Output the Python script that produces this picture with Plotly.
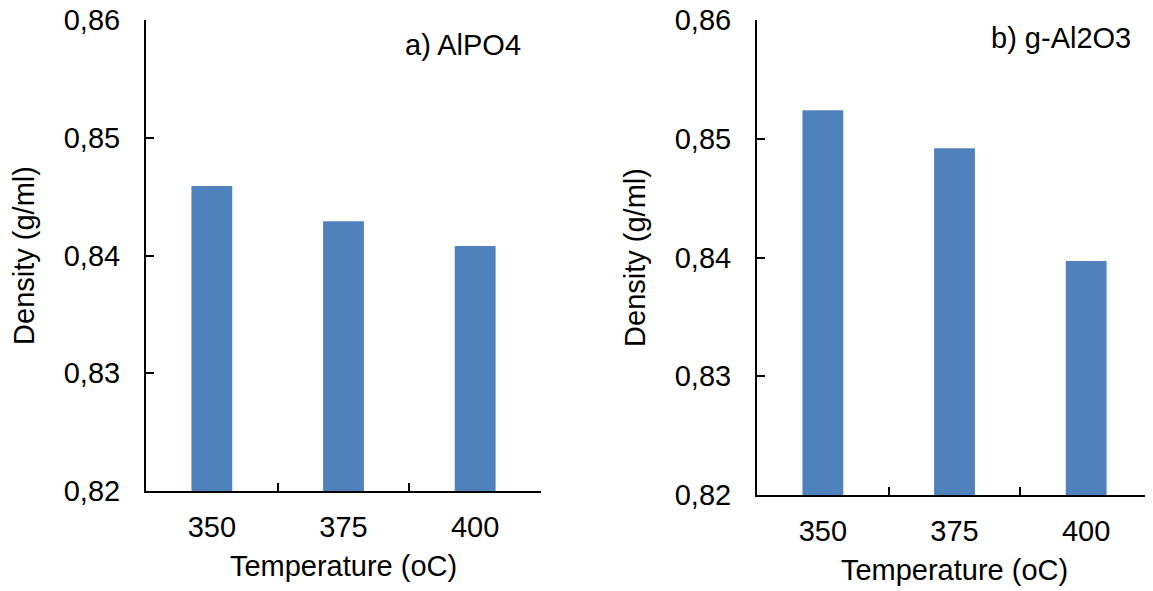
import plotly.graph_objects as go

temperatures = ["350", "375", "400"]
density_alpo4 = [0.8459, 0.8429, 0.8408]
density_al2o3 = [0.8524, 0.8492, 0.8397]
panel_labels = ["a) AlPO4", "b) g-Al2O3"]
y_ticks = [0.82, 0.83, 0.84, 0.85, 0.86]

BAR = "#4F81BD"
FONT = "Liberation Sans, Arial, sans-serif"
FS = 29

fig = go.Figure()
fig.add_trace(go.Bar(x=temperatures, y=density_alpo4, marker=dict(color=BAR, line=dict(width=0)),
                     xaxis="x", yaxis="y", showlegend=False))
fig.add_trace(go.Bar(x=temperatures, y=density_al2o3, marker=dict(color=BAR, line=dict(width=0)),
                     xaxis="x2", yaxis="y2", showlegend=False))

# page body has an 8px margin; map window pixel positions to figure coordinates
OFF = 8
W, H = 1153 - OFF, 591 - OFF
def px_x(a, b):
    return [(a - OFF) / W, (b - OFF) / W]
def px_y(top, bottom):
    return [(H - (bottom - OFF)) / H, (H - (top - OFF)) / H]
def pt(x, y):
    return (x - OFF) / W, (H - (y - OFF)) / H

xcommon = dict(showline=True, linecolor="black", linewidth=2, ticks="inside", ticklen=8,
               tickwidth=2, tickcolor="black", tickson="boundaries", showgrid=False,
               tickfont=dict(size=FS, color="black", family=FONT), zeroline=False,
               ticklabelstandoff=9, automargin=False, ticklabeloverflow="allow",
               title=dict(text="Temperature (oC)", font=dict(size=FS, color="black", family=FONT), standoff=14))
ycommon = dict(showline=True, linecolor="black", linewidth=2, ticks="inside", ticklen=8,
               tickwidth=2, tickcolor="black", showgrid=False, range=[0.82, 0.86],
               tickvals=y_ticks, tickformat=".2f", zeroline=False,
               tickfont=dict(size=FS, color="black", family=FONT),
               ticklabelstandoff=18, automargin=False, ticklabeloverflow="allow",
               title=dict(text="Density (g/ml)", font=dict(size=FS, color="black", family=FONT), standoff=21))

ax, ay = pt(463, 45)
bx, by = pt(1061, 38)
fig.update_layout(
    width=W, height=H, margin=dict(l=0, r=0, t=0, b=0, autoexpand=False),
    paper_bgcolor="white", plot_bgcolor="white",
    separators=", ", bargap=0.69,
    xaxis=dict(domain=px_x(146, 541), anchor="y", **xcommon),
    yaxis=dict(domain=px_y(20, 491), anchor="x", **ycommon),
    xaxis2=dict(domain=px_x(757, 1152), anchor="y2", **xcommon),
    yaxis2=dict(domain=px_y(20, 495), anchor="x2", **ycommon),
    annotations=[
        dict(text=panel_labels[0], x=ax, y=ay, xref="paper", yref="paper",
             showarrow=False, xanchor="center", yanchor="middle",
             font=dict(size=FS, color="black", family=FONT)),
        dict(text=panel_labels[1], x=bx, y=by, xref="paper", yref="paper",
             showarrow=False, xanchor="center", yanchor="middle",
             font=dict(size=FS, color="black", family=FONT)),
    ],
)

fig.write_html("out.html")
